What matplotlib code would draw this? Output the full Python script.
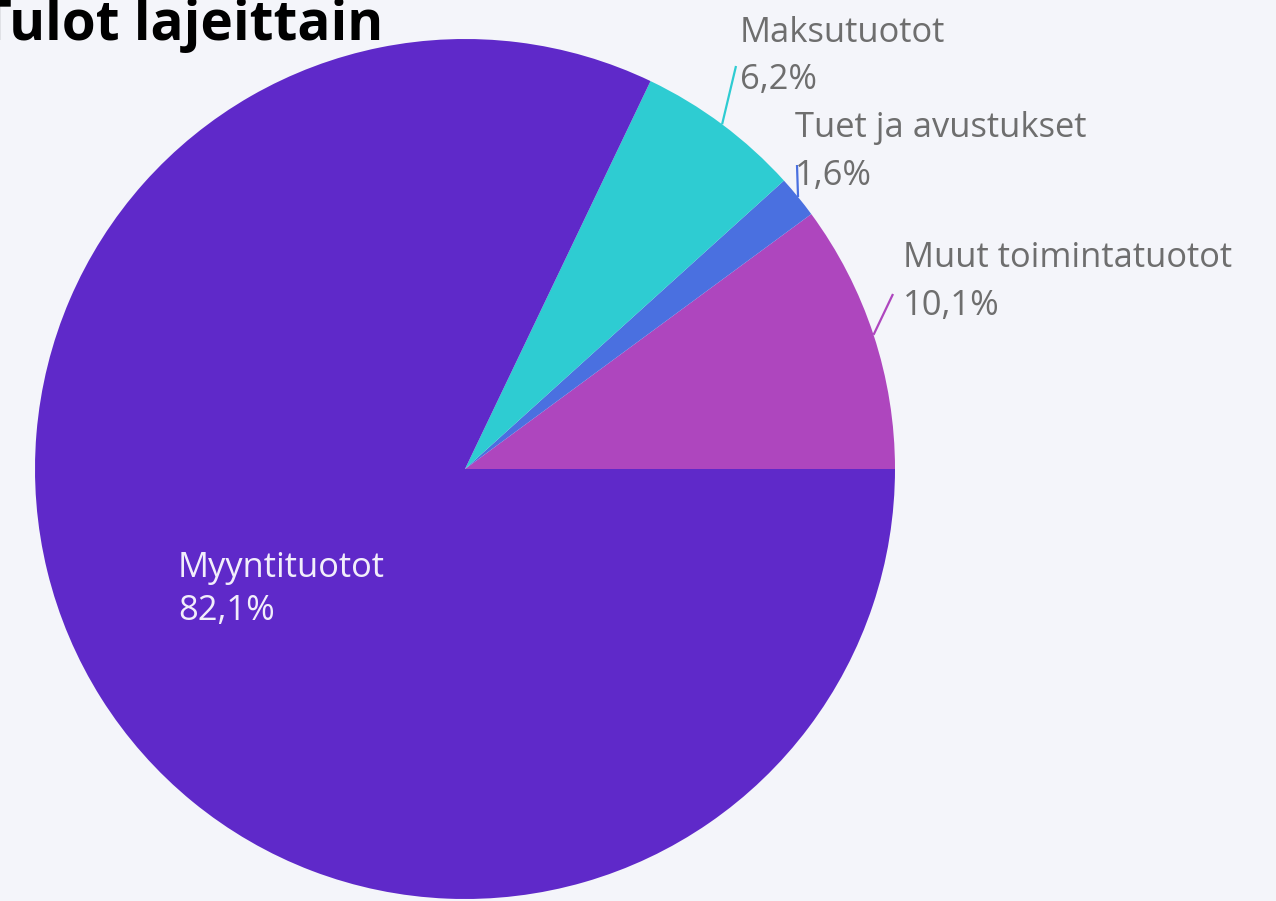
import numpy as np
import matplotlib.pyplot as plt

# data
labels = ['Muut toimintatuotot', 'Tuet ja avustukset', 'Maksutuotot', 'Myyntituotot']
values = [10.1, 1.6, 6.2, 82.1]
colors = ['#AE46BE', '#4A70E0', '#2ECCD2', '#5F29C9']
title = 'Tulot lajeittain'

W, H = 1276, 901
bg = '#F4F5FA'

fig = plt.figure(figsize=(W/100, H/100), dpi=100, facecolor=bg)
ax = fig.add_axes([0, 0, 1, 1])
ax.set_facecolor(bg)

cx, cy, r = 465, H - 469, 430
wedges, _ = ax.pie(values, colors=colors, startangle=0, counterclock=True,
                   center=(cx, cy), radius=r, frame=True,
                   wedgeprops=dict(edgecolor='none', linewidth=0))
ax.set_xlim(0, W)
ax.set_ylim(0, H)
ax.set_aspect('auto')
ax.axis('off')

def pct(v):
    return ('%.1f%%' % v).replace('.', ',')

# label baselines in pixel coords (x, y name, y pct) and leader line end points
label_pos = {
    'Muut toimintatuotot': (903, 267, 315, (893, 294)),
    'Tuet ja avustukset': (795, 137, 185, (797, 165)),
    'Maksutuotot': (740, 42, 89, (736, 66)),
    'Myyntituotot': (178, 577, 620, None),
}
font = ['Open Sans', 'DejaVu Sans']
for w, lab, v, c in zip(wedges, labels, values, colors):
    x, y1, y2, end = label_pos[lab]
    tc = '#F2EEFB' if end is None else '#6E6E6E'
    ax.text(x, H - y1, lab, fontsize=24.8, color=tc, family=font, va='baseline', ha='left')
    ax.text(x, H - y2, pct(v), fontsize=24.8, color=tc, family=font, va='baseline', ha='left')
    if end is not None:
        mid = np.deg2rad((w.theta1 + w.theta2) / 2)
        sx, sy = cx + r*np.cos(mid), cy + r*np.sin(mid)
        ax.plot([sx, end[0]], [sy, H - end[1]], color=c, lw=1.6, solid_capstyle='butt')

ax.text(383, H - 40, title, fontsize=39.5, fontweight='bold', family=font,
        color='black', ha='right', va='baseline')

fig.savefig('out.png', dpi=100, facecolor=bg)
